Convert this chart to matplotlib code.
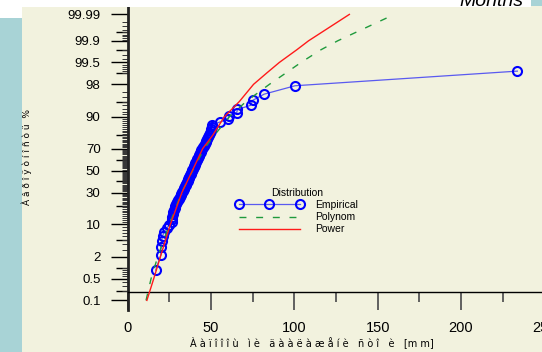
from statistics import NormalDist

import numpy as np
import matplotlib
matplotlib.use("Agg")
import matplotlib.pyplot as plt
from matplotlib.patches import Rectangle

# sample values (sorted)
emp_x = [16.8, 19.8, 20.0, 20.3, 21.0, 21.8, 23.4, 25.0, 26.4, 26.5,
         26.6, 27.0, 27.3, 27.8, 28.2, 28.6, 29.0, 29.5, 30.0, 30.6,
         31.2, 31.8, 32.2, 32.6, 33.0, 33.5, 34.0, 34.4, 34.8, 35.2,
         35.5, 35.9, 36.3, 36.7, 37.0, 37.4, 37.8, 38.1, 38.5, 38.8,
         39.2, 39.6, 39.9, 40.3, 40.6, 41.0, 41.4, 41.8, 42.1, 42.5,
         42.9, 43.3, 43.8, 44.2, 44.7, 45.2, 45.7, 46.2, 46.7, 47.2,
         47.7, 48.3, 48.8, 49.3, 49.7, 50.2, 50.5, 50.8, 55.4, 60.2,
         60.6, 65.4, 65.8, 73.8, 75.0, 81.8, 100.4, 233.8]

# fitted distributions: non-exceedance probability (%) and value
power_p = [0.1, 0.5, 2, 10, 30, 50, 70, 80, 90, 95, 98, 99, 99.5, 99.8, 99.9, 99.99]
power_x = [11.5, 15.6, 19.6, 25.6, 32.5, 38.8, 45.0, 51.0, 58.0, 67.0, 75.5, 83.5, 91.0, 101.5, 108.5, 133.0]

poly_p = [0.1, 0.5, 2, 10, 30, 50, 70, 80, 90, 95, 98, 99, 99.5, 99.8, 99.9, 99.99]
poly_x = [11.0, 14.0, 18.0, 25.0, 32.3, 39.0, 46.0, 52.0, 61.0, 71.0, 85.0, 95.0, 104.0, 116.0, 126.0, 160.0]

ytick_p = [0.1, 0.5, 2, 10, 30, 50, 70, 90, 98, 99.5, 99.9, 99.99]
ytick_labels = ["0.1", "0.5", "2", "10", "30", "50", "70", "90", "98", "99.5", "99.9", "99.99"]
xticks = [0, 50, 100, 150, 200, 250]

nd = NormalDist()


def probit(p_percent):
    return np.array([nd.inv_cdf(v / 100.0) for v in p_percent])


BEIGE = "#f2f2de"
PANEL = "#a8d3d6"
W, H = 542, 352

fig = plt.figure(figsize=(W / 100, H / 100), dpi=100, facecolor=BEIGE)

# page decorations around the chart
fig.add_artist(Rectangle((0, 0), 22 / W, 1 - 18 / H, transform=fig.transFigure,
                         color=PANEL, lw=0))
fig.add_artist(Rectangle((0, 1 - 18 / H), 22 / W, 18 / H, transform=fig.transFigure,
                         color="white", lw=0))
fig.add_artist(Rectangle((22 / W, 1 - 7 / H), (531 - 22) / W, 7 / H,
                         transform=fig.transFigure, color="white", lw=0))
fig.add_artist(Rectangle((531 / W, 1 - 6 / H), 11 / W, 6 / H,
                         transform=fig.transFigure, color=PANEL, lw=0))
fig.text(459 / W, 1 - 6 / H, "Months", style="italic", fontsize=14,
         family=["Liberation Sans", "DejaVu Sans"], va="baseline", ha="left")

# axes geometry in pixels: x=0 at 127.7 px, 1.6667 px per unit; z=0 at 170.6 px, 42 px per z
x0_px, x_scale = 127.7, 1.6667
z0_px, z_scale = 170.6, 42.0
top_px, bot_px = 7, 310
xmax = 260
ax = fig.add_axes([x0_px / W, 1 - bot_px / H, xmax * x_scale / W, (bot_px - top_px) / H])
ax.set_facecolor("none")
ax.set_xlim(0, xmax)
ax.set_ylim((z0_px - bot_px) / z_scale, (z0_px - top_px) / z_scale)

# empirical distribution with median-rank plotting positions
n = len(emp_x)
emp_p = [(i - 0.3) / (n + 0.4) * 100 for i in range(1, n + 1)]
emp_line, = ax.plot(emp_x, probit(emp_p), color="#5a5af0", lw=0.9,
                    marker="o", ms=6.5, mfc="none", mec="#0000ff", mew=1.5,
                    label="Empirical", zorder=2)
poly_line, = ax.plot(poly_x, probit(poly_p), color="#1f9a3c", lw=1.0,
                     dashes=(5, 7), label="Polynom", zorder=3)
power_line, = ax.plot(power_x, probit(power_p), color="#ff1a1a", lw=1.0,
                      label="Power", zorder=4)

# spines
for s in ("top", "right"):
    ax.spines[s].set_visible(False)
ax.spines["left"].set_linewidth(2.0)
ax.spines["left"].set_color("#222222")
ax.spines["bottom"].set_position(("data", (z0_px - 292) / z_scale))
ax.spines["bottom"].set_linewidth(1.0)
ax.spines["bottom"].set_color("black")

# x ticks
ax.set_xticks(xticks)
ax.set_xticklabels([str(v) for v in xticks], family=["Liberation Sans", "DejaVu Sans"])
ax.set_xticks([25, 75, 125, 175, 225], minor=True)
ax.tick_params(axis="x", which="major", direction="out", length=13, width=1.3,
               color="#555555", pad=8, labelsize=10.5)
ax.tick_params(axis="x", which="minor", direction="out", length=7, width=1.3,
               color="#555555")

# y ticks on a probability scale
ax.set_yticks(probit(ytick_p))
ax.set_yticklabels(ytick_labels, family=["Liberation Sans", "DejaVu Sans"])
ax.tick_params(axis="y", which="major", direction="out", length=12.5, width=1.0,
               color="black", pad=7, labelsize=9.5)
minor_p = np.concatenate([np.arange(0.1, 1.0, 0.1), np.arange(1, 10, 1),
                          np.arange(10, 91, 1), np.arange(91, 99, 1),
                          np.arange(99.0, 99.9, 0.1), np.arange(99.9, 99.991, 0.01)])
ax.set_yticks(probit(minor_p), minor=True)
ax.tick_params(axis="y", which="minor", direction="out", length=4, width=0.7,
               color="#333333")

sec = ax.secondary_yaxis("left")
sec.set_yticks(probit([0.2, 1, 5, 20, 40, 60, 80, 95, 99, 99.8, 99.95]))
sec.set_yticklabels([])
sec.tick_params(axis="y", direction="out", length=8.5, width=1.0, color="black")
sec.spines["left"].set_visible(False)

# axis titles (garbled cyrillic as in the source)
narrow = ["Liberation Sans Narrow", "DejaVu Sans"]
fig.text(27 / W, 1 - 157 / H, "À â ð î ÿ ò í î ñ ò ü  %", rotation=90,
         fontsize=6.5, family=narrow, ha="center", va="center")
fig.text(312 / W, 1 - 342 / H,
         "À à ï î î î ù   ì è   ä à à ë à æ å í è   ñ ò î   è   [m m]",
         fontsize=7, family=narrow, ha="center", va="center")

fig.legend([emp_line, poly_line, power_line], ["Empirical", "Polynom", "Power"],
           title="Distribution", loc="upper left",
           bbox_to_anchor=(236 / W, 1 - 188 / H), frameon=False,
           numpoints=3, handlelength=6.4,
           borderpad=0, borderaxespad=0, labelspacing=0.2, handletextpad=1.2,
           title_fontproperties={"family": ["Liberation Sans", "DejaVu Sans"], "size": 7.5},
           prop={"family": ["Liberation Sans", "DejaVu Sans"], "size": 7.5})

fig.savefig("out.png", dpi=100, facecolor=BEIGE)
